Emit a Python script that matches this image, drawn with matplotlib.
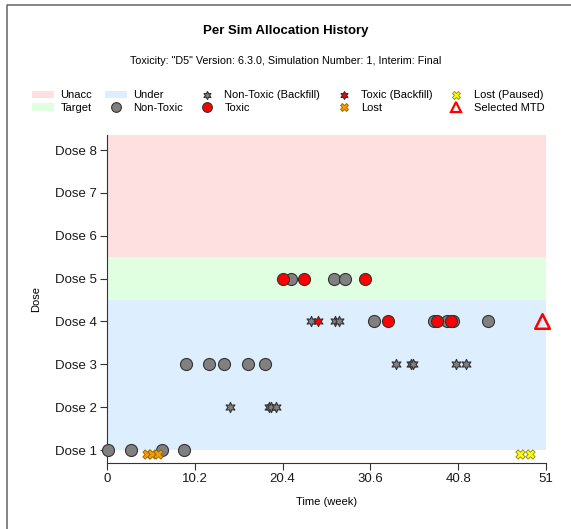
import matplotlib
matplotlib.use("Agg")
import matplotlib.pyplot as plt
from matplotlib.patches import Patch
from matplotlib.lines import Line2D

plt.rcParams['font.family'] = ['Liberation Sans', 'DejaVu Sans']

# Daten
dose_labels = ["Dose 1", "Dose 2", "Dose 3", "Dose 4", "Dose 5", "Dose 6", "Dose 7", "Dose 8"]
x_ticks = [0, 10.2, 20.4, 30.6, 40.8, 51]
x_ticklabels = ["0", "10.2", "20.4", "30.6", "40.8", "51"]

# Dosisbereiche (untere und obere Grenze)
under_range = (1, 4.5)
target_range = (4.5, 5.5)
unacc_range = (5.5, 8.35)

nontox_t = [0.1, 2.8, 6.35, 8.9, 9.2, 11.8, 13.6, 16.4, 18.4, 21.4, 26.4, 27.7,
            31.05, 38.0, 39.45, 40.2, 44.3]
nontox_d = [1, 1, 1, 1, 3, 3, 3, 3, 3, 5, 5, 5, 4, 4, 4, 4, 4]

tox_t = [20.4, 22.85, 29.95, 32.7, 38.3, 40.0]
tox_d = [5, 5, 5, 4, 4, 4]

bf_nontox_t = [14.3, 18.8, 19.0, 19.6, 23.65, 26.5, 26.95, 33.6, 35.3, 35.5, 40.5, 41.65]
bf_nontox_d = [2, 2, 2, 2, 4, 4, 4, 3, 3, 3, 3, 3]

bf_tox_t = [24.55]
bf_tox_d = [4]

lost_t = [4.6, 5.25, 5.95]
lost_d = [0.9, 0.9, 0.9]

lost_paused_t = [48.0, 49.2]
lost_paused_d = [0.9, 0.9]

mtd_t = [50.6]
mtd_d = [4]

c_unacc = "#ffe0e0"
c_target = "#e0ffe0"
c_under = "#ddeeff"
c_edge = "#333333"

fig = plt.figure(figsize=(5.71, 5.29), dpi=100)
ax = fig.add_axes([0.1874, 0.1248, 0.7688, 0.62])

# Hintergrundbereiche
ax.axhspan(*under_range, color=c_under, lw=0, zorder=0)
ax.axhspan(*target_range, color=c_target, lw=0, zorder=0)
ax.axhspan(*unacc_range, color=c_unacc, lw=0, zorder=0)

# sechszackiger Stern fuer Backfill
star = (6, 1, 0)

ax.scatter(nontox_t, nontox_d, s=75, c="#808080", edgecolors=c_edge, linewidths=0.8, zorder=3, clip_on=False)
ax.scatter(tox_t, tox_d, s=75, c="#ff0000", edgecolors=c_edge, linewidths=0.8, zorder=3, clip_on=False)
ax.scatter(bf_nontox_t, bf_nontox_d, s=55, marker=star, c="#808080", edgecolors=c_edge, linewidths=0.8, zorder=3)
ax.scatter(bf_tox_t, bf_tox_d, s=55, marker=star, c="#ff0000", edgecolors=c_edge, linewidths=0.8, zorder=3)
ax.scatter(lost_t, lost_d, s=45, marker="X", c="#ff9900", edgecolors="#886600", linewidths=0.6, zorder=3)
ax.scatter(lost_paused_t, lost_paused_d, s=45, marker="X", c="#ffff00", edgecolors="#888800", linewidths=0.6, zorder=3)
ax.scatter(mtd_t, mtd_d, s=110, marker="^", facecolors="none", edgecolors="#ff0000", linewidths=1.8,
           zorder=3, clip_on=False)

ax.set_xlim(0, 51)
ax.set_ylim(0.7, 8.35)
ax.set_xticks(x_ticks)
ax.set_xticklabels(x_ticklabels)
ax.set_yticks(range(1, 9))
ax.set_yticklabels(dose_labels)
ax.tick_params(axis="both", direction="out", length=5, width=0.8, color="#333333",
               labelsize=9.5, labelcolor="#1a1a1a", pad=2)
for s in ["top", "right"]:
    ax.spines[s].set_visible(False)
for s in ["left", "bottom"]:
    ax.spines[s].set_color("#333333")
    ax.spines[s].set_linewidth(0.8)
ax.set_xlabel("Time (week)", fontsize=8, labelpad=9)
ax.set_ylabel("Dose", fontsize=8, labelpad=10)

fig.text(0.5, 0.942, "Per Sim Allocation History", ha="center", va="center",
         fontsize=9.5, fontweight="bold")
fig.text(0.5, 0.885, 'Toxicity: "D5" Version: 6.3.0, Simulation Number: 1, Interim: Final',
         ha="center", va="center", fontsize=7.75)

def mk(marker, fc, ec, ms, mew=0.8):
    return Line2D([], [], ls="none", marker=marker, markerfacecolor=fc,
                  markeredgecolor=ec, markersize=ms, markeredgewidth=mew)

handles = [
    Patch(facecolor=c_unacc, edgecolor="none"),
    Patch(facecolor=c_target, edgecolor="none"),
    Patch(facecolor=c_under, edgecolor="none"),
    mk("o", "#808080", c_edge, 7),
    mk(star, "#808080", c_edge, 6),
    mk("o", "#ff0000", c_edge, 7),
    mk(star, "#ff0000", c_edge, 6),
    mk("X", "#ff9900", "#886600", 6, 0.6),
    mk("X", "#ffff00", "#888800", 6, 0.6),
    mk("^", "none", "#ff0000", 7, 1.6),
]
labels = ["Unacc", "Target", "Under", "Non-Toxic", "Non-Toxic (Backfill)", "Toxic",
          "Toxic (Backfill)", "Lost", "Lost (Paused)", "Selected MTD"]
fig.legend(handles, labels, ncol=5, loc="upper left", bbox_to_anchor=(0.038, 0.848),
           frameon=False, fontsize=8, handlelength=2.0, handletextpad=0.6,
           columnspacing=1.1, labelspacing=0.2)

# grauer Rahmen (nur links und oben sichtbar)
fig.add_artist(Line2D([6.5 / 571, 6.5 / 571, 1.0], [0.0, 1 - 5 / 529, 1 - 5 / 529],
                      transform=fig.transFigure, color="#707070", lw=1.2))

fig.savefig("out.png", dpi=100)
